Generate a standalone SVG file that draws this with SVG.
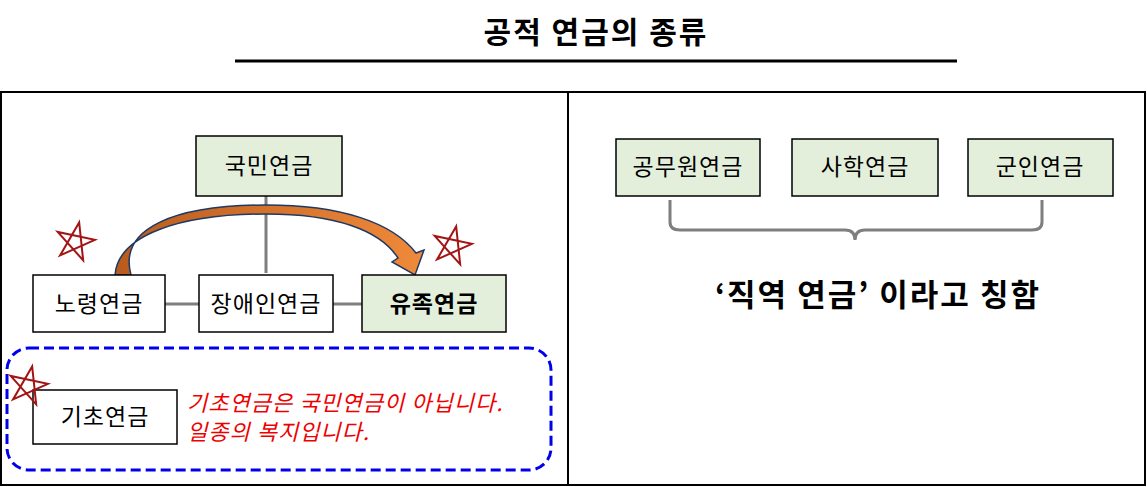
<svg xmlns="http://www.w3.org/2000/svg" width="1147" height="487" viewBox="0 0 1147 487">
<style>
.t{font-family:"Noto Sans CJK KR","Liberation Sans",sans-serif;fill:#000}
.box{stroke:#000;stroke-width:1.5}
.w{fill:#fff}.g{fill:#e3efda}
.c{stroke:#7f7f7f;stroke-width:3;fill:none}
.star{fill:none;stroke:#a31515;stroke-width:2}
.r{font-size:22px;font-style:italic;fill:#ee0000;font-family:"Noto Sans CJK KR",sans-serif;letter-spacing:1px}
</style>
<defs>
<linearGradient id="og" x1="0" y1="0" x2="1" y2="0"><stop offset="0" stop-color="#b85b1e"/><stop offset="1" stop-color="#f08a3a"/></linearGradient>
<polygon id="st" points="0,-20 11.8,16.2 -19,-6.2 19,-6.2 -11.8,16.2" transform="rotate(12)"/>
</defs>
<rect width="1147" height="487" fill="#fff"/>
<text class="t" x="596" y="43" font-size="30" font-weight="bold" text-anchor="middle" letter-spacing="2">공적 연금의 종류</text>
<line x1="235" y1="61" x2="957" y2="61" stroke="#000" stroke-width="3"/>
<rect x="1" y="92" width="567" height="393" fill="none" stroke="#000" stroke-width="2"/>
<rect x="568" y="92" width="577" height="393" fill="none" stroke="#000" stroke-width="2"/>
<g id="connectors">
<line class="c" x1="266" y1="196" x2="266" y2="273"/>
<line class="c" x1="165" y1="304" x2="199" y2="304"/>
<line class="c" x1="333" y1="304" x2="362" y2="304"/>
<path d="M115,275 C118,235 180,214 266,214 C335,214 380,230 398,258 L392,262 L415,275 L424,250 L416,253 C392,222 340,205 266,205 C175,205 118,228 131,275 Z" fill="url(#og)" stroke="#1f3864" stroke-width="1.5"/>
<path class="c" d="M670,200 V222 Q670,230 680,230 H845 Q855,230 855,240 Q855,230 865,230 H1032 Q1042,230 1042,222 V200" stroke-width="5"/>
</g>
<g id="n1"><rect class="box g" x="196" y="136" width="146" height="60"/><text class="t" x="269" y="174" font-size="23" text-anchor="middle" letter-spacing="1">국민연금</text></g>
<g id="n2"><rect class="box w" x="33" y="275" width="132" height="57"/><text class="t" x="99" y="312" font-size="23" text-anchor="middle" letter-spacing="1">노령연금</text></g>
<g id="n3"><rect class="box w" x="199" y="275" width="134" height="57"/><text class="t" x="266" y="312" font-size="23" text-anchor="middle" letter-spacing="1">장애인연금</text></g>
<g id="n4"><rect class="box g" x="362" y="275" width="144" height="57"/><text class="t" x="434" y="312" font-size="23" font-weight="bold" text-anchor="middle" letter-spacing="1">유족연금</text></g>
<g id="n5"><rect x="7" y="348" width="544" height="122" rx="22" fill="none" stroke="#0000ee" stroke-width="3" stroke-dasharray="10,5"/>
<rect class="box w" x="33" y="390" width="144" height="54"/><text class="t" x="105" y="425" font-size="23" text-anchor="middle" letter-spacing="1">기초연금</text>
<text class="r" x="187" y="411">기초연금은 국민연금이 아닙니다.</text>
<text class="r" x="187" y="440">일종의 복지입니다.</text></g>
<use href="#st" class="star" x="75" y="242"/>
<use href="#st" class="star" x="452" y="246"/>
<use href="#st" class="star" x="28" y="386"/>
<g id="n6"><rect class="box g" x="616" y="139" width="144" height="57"/><text class="t" x="688" y="175" font-size="23" text-anchor="middle" letter-spacing="1">공무원연금</text></g>
<g id="n7"><rect class="box g" x="792" y="139" width="146" height="57"/><text class="t" x="865" y="175" font-size="23" text-anchor="middle" letter-spacing="1">사학연금</text></g>
<g id="n8"><rect class="box g" x="968" y="139" width="145" height="57"/><text class="t" x="1040" y="175" font-size="23" text-anchor="middle" letter-spacing="1">군인연금</text></g>
<text class="t" x="878" y="306" font-size="31" font-weight="bold" text-anchor="middle" letter-spacing="2">‘직역 연금’ 이라고 칭함</text>
</svg>
